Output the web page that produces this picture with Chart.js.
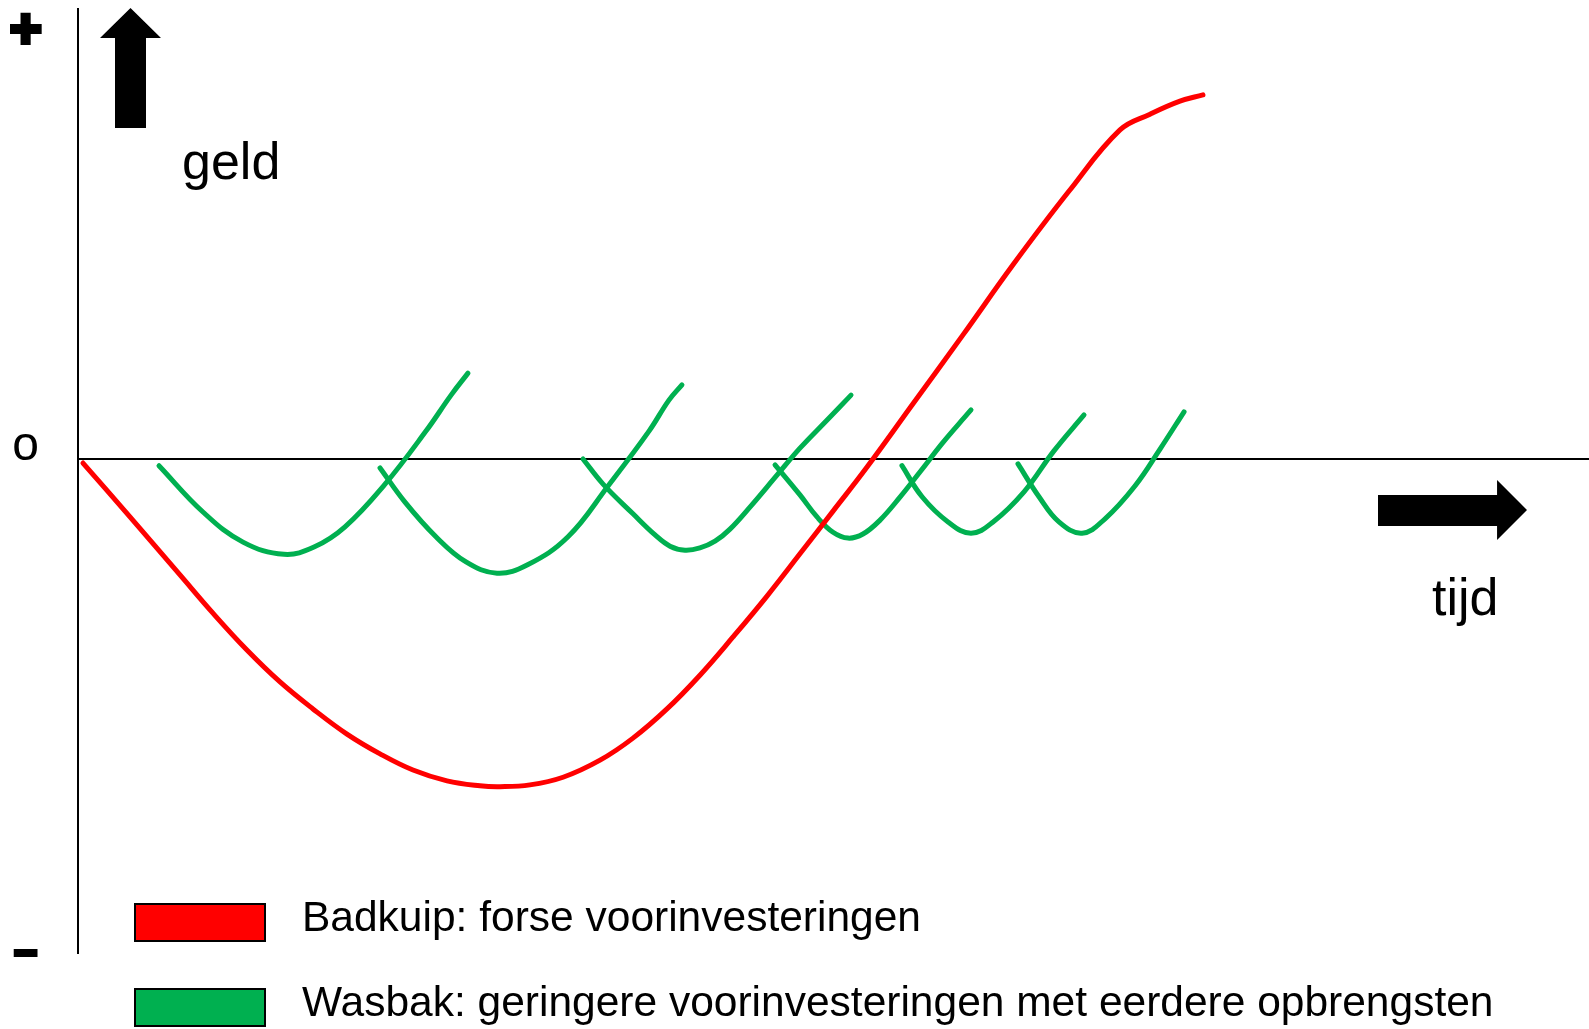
<!DOCTYPE html>
<html lang="nl">
<head>
<meta charset="utf-8">
<title>Badkuip en wasbak</title>
<script src="https://cdn.jsdelivr.net/npm/chart.js@4/dist/chart.umd.min.js"></script>
<style>
  html, body { margin: 0; padding: 0; background: #fff; }
  #wrap { position: relative; width: 1589px; height: 1029px; overflow: hidden;
          font-family: "Liberation Sans", Arial, sans-serif; color: #000; }
  #chart { position: absolute; left: 0; top: 0; }
  .arrow { position: absolute; background: #000; }
  .up { left: 100px; top: 8px; width: 61px; height: 120px;
        clip-path: polygon(50% 0, 100% 25%, 75.4% 25%, 75.4% 100%, 24.6% 100%, 24.6% 25%, 0 25%); }
  .right { left: 1378px; top: 480px; width: 149px; height: 60px;
        clip-path: polygon(0 25%, 79.9% 25%, 79.9% 0, 100% 50%, 79.9% 100%, 79.9% 76.7%, 0 76.7%); }
  .lbl { position: absolute; font-size: 52px; line-height: 1; white-space: nowrap; }
  #geld { left: 182px; top: 135px; }
  #tijd { left: 1432px; top: 571px; }
  #legend .row { position: absolute; left: 134px; top: 896px; height: 43px; }
  #legend .row:nth-child(2) { top: 981px; }
  #legend .box { position: absolute; left: 0; top: 7px; width: 132px; height: 39px;
                 box-sizing: border-box; border: 2px solid #000; }
  #legend .txt { position: absolute; left: 168px; top: 0; font-size: 42.5px;
                 line-height: 1; white-space: nowrap; }
</style>
</head>
<body>
<div id="wrap">
  <canvas id="chart" width="1589" height="1029"></canvas>
  <div class="arrow up"></div>
  <div class="lbl" id="geld">geld</div>
  <div class="arrow right"></div>
  <div class="lbl" id="tijd">tijd</div>
  <div id="legend"></div>
</div>
<script>
// geld (y) tegen tijd (x), willekeurige eenheden
var badkuipTijd = [0.33, 3.44, 6.75, 8.93, 11.18, 13.37, 15.55, 17.80, 19.99, 22.17, 24.42, 26.60, 27.93,
                   29.91, 32.10, 34.55, 36.73, 38.98, 41.16, 43.35, 45.60, 47.78, 49.97, 52.22, 55.20,
                   58.57, 61.88, 65.59, 68.96, 70.95, 72.93, 74.45];
var badkuipGeld = [-1.0, -13.0, -25.9, -34.4, -42.6, -49.7, -55.7, -61.3, -65.7, -69.3, -71.7, -72.8, -73.0,
                   -72.6, -70.9, -67.1, -62.2, -55.7, -48.2, -39.7, -30.6, -21.2, -11.7, -1.9, 11.9,
                   27.5, 43.1, 59.5, 73.1, 76.6, 79.5, 80.9];

// een rij per wasbak-cyclus
var wasbakTijd = [
  [5.36, 8.27, 10.92, 13.63, 15.62, 17.67, 20.32, 23.03, 24.69, 25.81],
  [19.99, 21.64, 23.69, 25.68, 27.73, 29.72, 32.43, 35.08, 37.79, 39.11, 39.97],
  [33.42, 34.75, 36.73, 38.19, 39.18, 40.17, 41.16, 42.16, 43.15, 44.47, 46.26, 47.78, 49.50, 51.16],
  [46.13, 47.78, 48.91, 49.97, 50.96, 51.95, 53.08, 54.40, 55.72, 57.18, 58.24, 59.10],
  [54.53, 55.86, 57.58, 59.10, 60.56, 62.61, 64.59, 66.58],
  [62.21, 63.60, 64.92, 66.45, 67.97, 69.95, 71.61, 73.20]
];
var wasbakGeld = [
  [-1.6, -11.9, -18.6, -21.3, -19.7, -15.2, -5.7, 6.1, 14.1, 19.0],
  [-2.1, -9.7, -17.4, -23.0, -25.5, -23.7, -17.4, -6.1, 6.1, 13.0, 16.4],
  [-0.1, -5.7, -12.3, -17.0, -19.5, -20.4, -19.9, -18.4, -15.7, -10.8, -3.7, 2.3, 8.3, 14.1],
  [-1.4, -8.1, -13.0, -16.4, -17.7, -16.8, -13.7, -8.6, -3.0, 3.3, 7.5, 10.8],
  [-1.6, -8.5, -14.1, -16.6, -14.1, -7.4, 1.7, 9.7],
  [-1.2, -8.5, -14.1, -16.6, -13.4, -6.1, 2.1, 10.4]
];

var geldTicks = [-110, 2.6, 95.0];
var geldTickLabels = ['\u2013', 'o', '+'];

var seriesNames = ['Badkuip: forse voorinvesteringen',
                   'Wasbak: geringere voorinvesteringen met eerdere opbrengsten'];
var seriesColors = ['#ff0000', '#00b050'];

function toPoints(xs, ys) {
  return xs.map(function (t, i) { return {x: t, y: ys[i]}; });
}

var datasets = [
  { label: seriesNames[0], data: toPoints(badkuipTijd, badkuipGeld), borderColor: seriesColors[0] }
];
wasbakTijd.forEach(function (cyc, c) {
  datasets.push({ label: seriesNames[1], data: toPoints(cyc, wasbakGeld[c]), borderColor: seriesColors[1] });
});

var font = '"Liberation Sans", Arial, sans-serif';

var chart = new Chart(document.getElementById('chart'), {
  type: 'line',
  data: { datasets: datasets },
  options: {
    responsive: false,
    animation: false,
    events: [],
    layout: { padding: { left: 10, top: 9, right: 0, bottom: 76 } },
    elements: {
      point: { radius: 0 },
      line: { borderWidth: 5, tension: 0.4, borderCapStyle: 'round', borderJoinStyle: 'round', fill: false }
    },
    plugins: { legend: { display: false }, tooltip: { enabled: false } },
    scales: {
      x: {
        type: 'linear', min: 0, max: 100,
        position: { y: 0 },
        grid: { display: false, drawTicks: false },
        border: { display: true, color: '#000', width: 2 },
        ticks: { display: false },
        afterFit: function (scale) { scale.paddingLeft = 0; scale.paddingRight = 0; }
      },
      y: {
        type: 'linear', min: -110, max: 100,
        position: 'left',
        grid: { display: false, drawTicks: false },
        border: { display: true, color: '#000', width: 2 },
        afterBuildTicks: function (scale) {
          scale.ticks = geldTicks.map(function (v) { return {value: v}; });
        },
        afterFit: function (scale) {
          scale.width = 68; scale.paddingTop = 0; scale.paddingBottom = 0;
        },
        ticks: {
          autoSkip: false,
          crossAlign: 'center',
          padding: 36,
          color: '#000',
          callback: function (value, index) { return geldTickLabels[index]; },
          font: function (ctx) {
            if (ctx.index === 1) return { family: font, size: 48, weight: 'normal' };
            return { family: font, size: ctx.index === 2 ? 56 : 40, weight: 'bold' };
          },
          textStrokeColor: '#000',
          textStrokeWidth: function (ctx) { return ctx.index === 1 ? 0 : 4; }
        }
      }
    }
  }
});

// legenda in html: een regel per reeks
var legend = document.getElementById('legend');
seriesNames.forEach(function (name, i) {
  var row = document.createElement('div');
  row.className = 'row';
  var box = document.createElement('div');
  box.className = 'box';
  box.style.background = seriesColors[i];
  var txt = document.createElement('div');
  txt.className = 'txt';
  txt.textContent = name;
  row.appendChild(box);
  row.appendChild(txt);
  legend.appendChild(row);
});
</script>
</body>
</html>
